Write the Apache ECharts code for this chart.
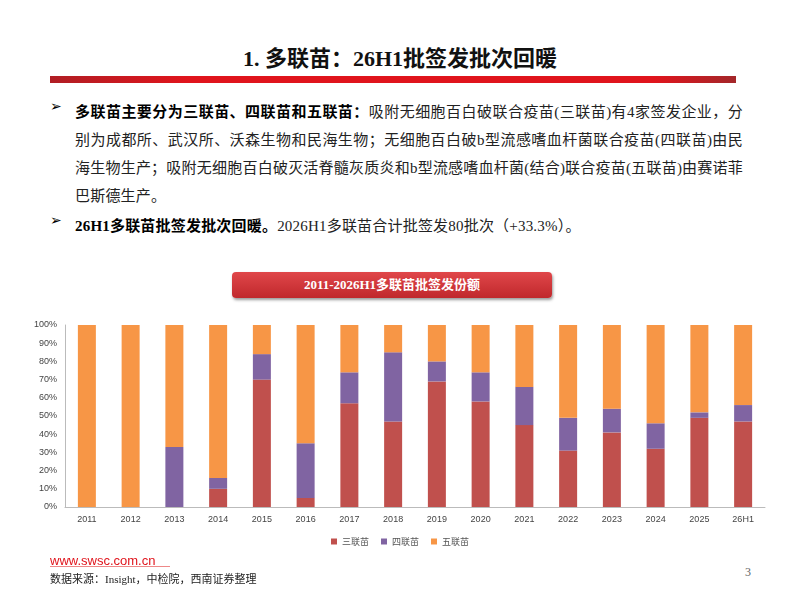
<!DOCTYPE html>
<html><head><meta charset="utf-8">
<script src="https://cdn.jsdelivr.net/npm/echarts@6/dist/echarts.min.js"></script>
<style>
body{margin:0;width:800px;height:600px;position:relative;background:#fff;font-family:"Liberation Serif","Noto Sans CJK SC",serif;overflow:hidden}
.abs{position:absolute}
#title{left:0;width:800px;top:40px;text-align:center;font-size:22px;font-weight:bold;color:#111}
#bar{left:50px;top:76px;width:686px;height:7px;background:linear-gradient(90deg,#b01e24 0%,#e0141c 20%,#e0141c 88%,#a3272a 100%)}
.p{left:75px;width:668px;font-size:15px;letter-spacing:0.2px;line-height:28px;color:#222;text-align:justify}
.arr{left:50px;font-size:14px}
b{color:#000}
#banner{left:232px;top:272px;width:320px;height:26px;background:linear-gradient(#e0474a,#c0282c);border-radius:4px;color:#fff;font-size:13px;font-weight:bold;text-align:center;line-height:26px;box-shadow:1px 2px 3px #999}
#main{left:30px;top:315px;width:740px;height:240px}
#web{left:50px;top:553px;color:#e0141c;font-size:13px;font-family:"Liberation Sans",sans-serif}
#src{left:50px;top:570px;font-size:11px;color:#222}
#pg{left:745px;top:565px;font-size:12px;color:#666}
#line2{left:50px;top:566px;width:120px;height:1px;background:#e88}
</style></head><body>
<div id="title" class="abs">1. 多联苗：26H1批签发批次回暖</div>
<div id="bar" class="abs"></div>
<div class="abs arr" style="top:98px">➢</div>
<div class="abs p" style="top:98px"><b>多联苗主要分为三联苗、四联苗和五联苗：</b>吸附无细胞百白破联合疫苗(三联苗)有4家签发企业，分别为成都所、武汉所、沃森生物和民海生物；无细胞百白破b型流感嗜血杆菌联合疫苗(四联苗)由民海生物生产；吸附无细胞百白破灭活脊髓灰质炎和b型流感嗜血杆菌(结合)联合疫苗(五联苗)由赛诺菲巴斯德生产。</div>
<div class="abs arr" style="top:212px">➢</div>
<div class="abs p" style="top:212px"><b>26H1多联苗批签发批次回暖。</b>2026H1多联苗合计批签发80批次（+33.3%）。</div>
<div id="banner" class="abs">2011-2026H1多联苗批签发份额</div>
<div id="main" class="abs"></div>
<div id="web" class="abs">www.swsc.com.cn</div>
<div id="line2" class="abs"></div>
<div id="src" class="abs">数据来源：Insight，中检院，西南证券整理</div>
<div id="pg" class="abs">3</div>
<script>
var years = ["2011","2012","2013","2014","2015","2016","2017","2018","2019","2020","2021","2022","2023","2024","2025","26H1"];
var data = {
    "三联苗": [0, 0, 0, 10, 70, 5, 57, 47, 69, 58, 45, 31, 41, 32, 49, 47],
    "四联苗": [0, 0, 33, 6, 14, 30, 17, 38, 11, 16, 21, 18, 13, 14, 3, 9],
    "五联苗": [100, 100, 67, 84, 16, 65, 26, 15, 20, 26, 34, 51, 46, 54, 48, 44]
};
var colors = {"三联苗": "#c0504d", "四联苗": "#8064a2", "五联苗": "#f79646"};

var chart = echarts.init(document.getElementById("main"));
var series = Object.keys(data).map(function (name) {
    return {
        name: name,
        type: "bar",
        stack: "total",
        barWidth: 18,
        itemStyle: {color: colors[name]},
        data: data[name]
    };
});
chart.setOption({
    animation: false,
    grid: {left: 35, right: 5, top: 10, bottom: 48},
    legend: {
        bottom: 4,
        itemWidth: 6, itemHeight: 6, itemGap: 12,
        icon: "rect",
        textStyle: {fontSize: 9, color: "#555", fontFamily: "Noto Sans CJK SC"}
    },
    xAxis: {
        type: "category",
        data: years,
        axisTick: {show: false},
        axisLine: {lineStyle: {color: "#bbb"}},
        axisLabel: {fontSize: 9, color: "#444", margin: 8}
    },
    yAxis: {
        type: "value",
        min: 0, max: 100, interval: 10,
        splitLine: {show: false},
        axisLine: {show: true, lineStyle: {color: "#bbb"}},
        axisLabel: {fontSize: 9, color: "#444", formatter: "{value}%"}
    },
    series: series
});
</script>
</body></html>
